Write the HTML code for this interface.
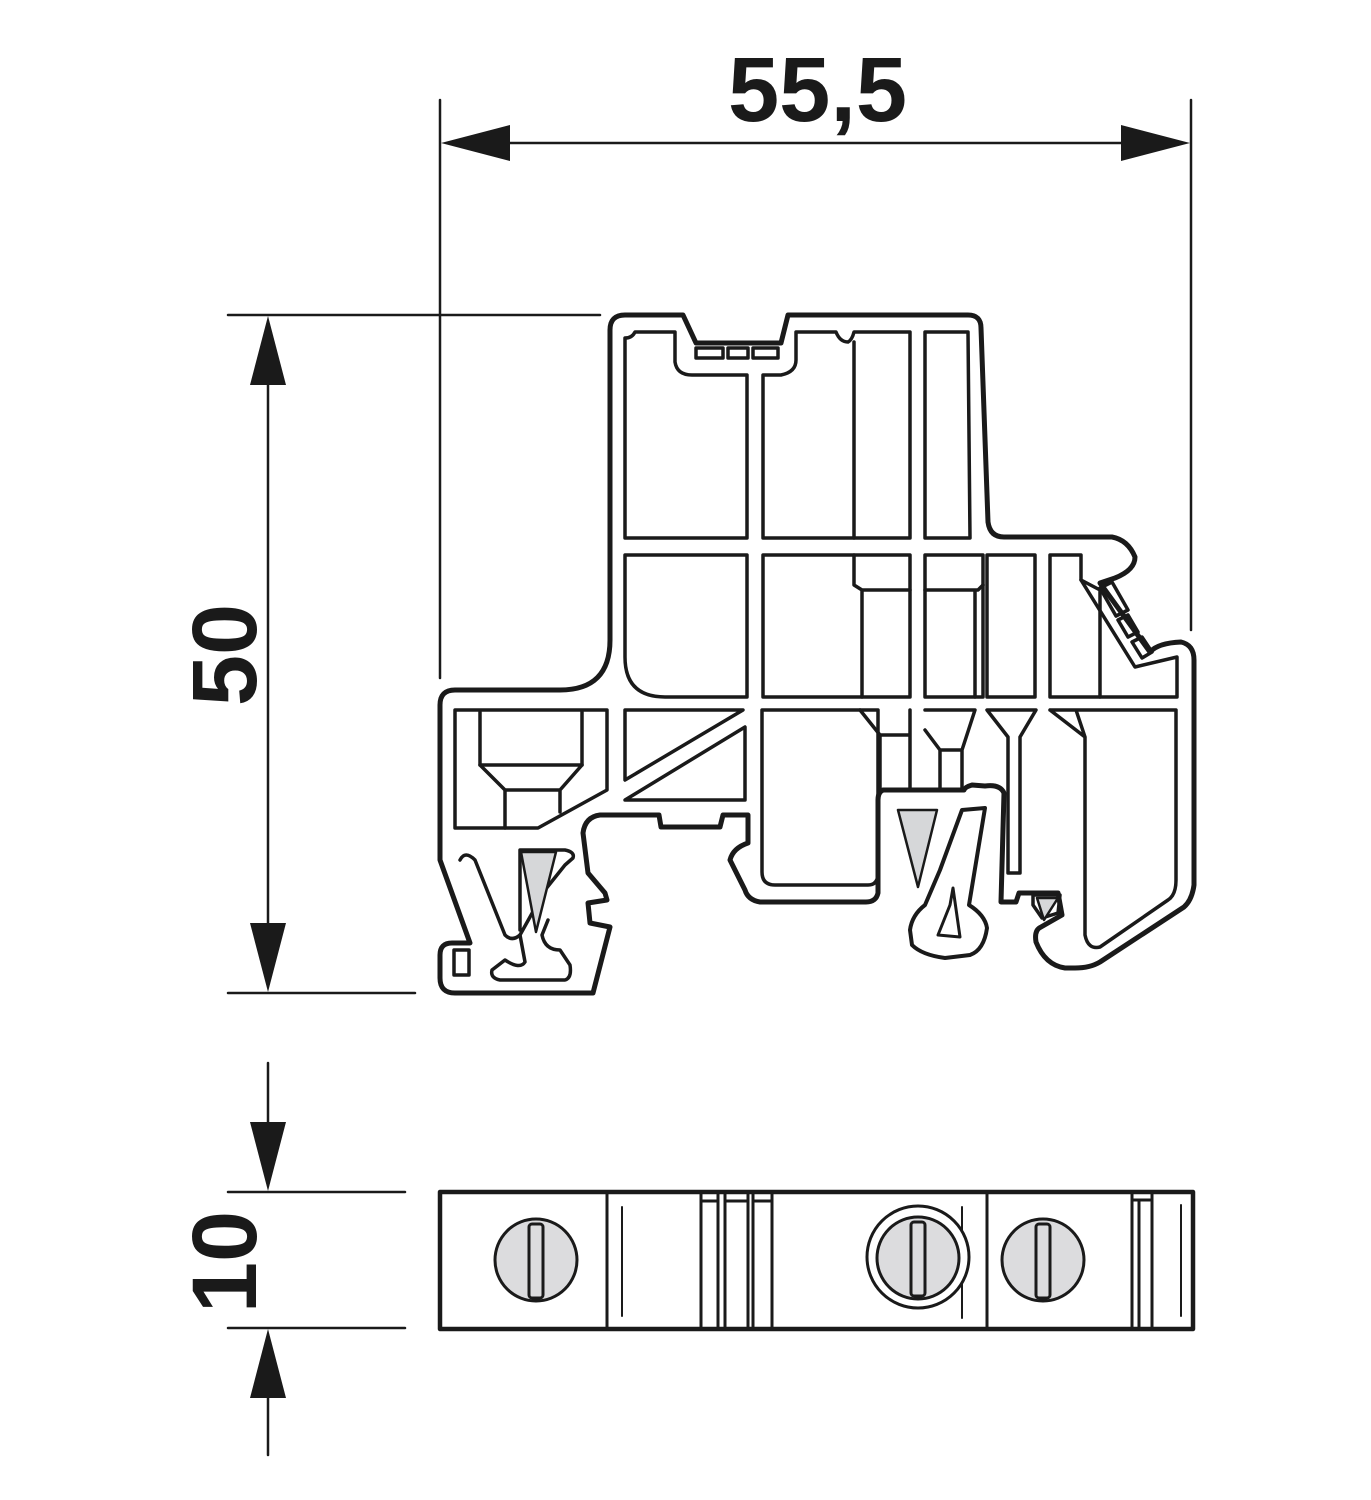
<!DOCTYPE html>
<html><head><meta charset="utf-8"><style>html,body{margin:0;padding:0;background:#fff}svg{display:block}</style></head>
<body>
<svg width="1371" height="1500" viewBox="0 0 1371 1500" xmlns="http://www.w3.org/2000/svg">
<g stroke="#1a1a1a" fill="none" stroke-linejoin="round" stroke-linecap="round">
<g stroke-width="2.5">
<line x1="440" y1="100" x2="440" y2="678"/>
<line x1="1191" y1="100" x2="1191" y2="630"/>
<line x1="505" y1="143" x2="1126" y2="143"/>
<line x1="228" y1="315" x2="600" y2="315"/>
<line x1="228" y1="993" x2="415" y2="993"/>
<line x1="268" y1="380" x2="268" y2="930"/>
<line x1="228" y1="1192" x2="405" y2="1192"/>
<line x1="228" y1="1328" x2="405" y2="1328"/>
<line x1="268" y1="1063" x2="268" y2="1130"/>
<line x1="268" y1="1390" x2="268" y2="1455"/>
</g>
<g fill="#1a1a1a" stroke="none">
<polygon points="441,143 510,125 510,161"/>
<polygon points="1190,143 1121,125 1121,161"/>
<polygon points="268,316 250,385 286,385"/>
<polygon points="268,992 250,923 286,923"/>
<polygon points="268,1191 250,1122 286,1122"/>
<polygon points="268,1329 250,1398 286,1398"/>
</g>

<g stroke-width="5">
<path d="M625,315 H683 L696,343 H781 L788,315 H968 Q981,315 981,328 L988,522 Q990,537 1004,537 H1112 Q1128,540 1135,557 Q1135,570 1115,578 L1100,583 L1150,652 Q1158,643 1181,642 Q1194,645 1194,660 V885 Q1192,900 1184,907 L1100,962 Q1090,968 1075,968 H1065 Q1045,965 1036,942 Q1034,930 1041,927 L1062,915 L1058,893 H1019 L1016,902 H1001 L1004,793 Q1000,784 985,786 L972,785 Q965,787 964,790 H883 Q878,792 878,800 V893 Q876,902 866,902 H760 Q748,900 745,890 L730,860 Q733,848 748,843 V815 H723 L720,827 H661 L659,815 H600 Q585,817 583,833 L588,873 L605,893 L607,900 L588,903 L590,923 L610,927 L593,993 H455 Q440,993 440,978 V955 Q440,943 452,943 H470 L440,860 V705 Q440,690 455,690 H560 Q610,690 610,640 V330 Q610,315 625,315 Z"/>
<path d="M910,930 Q912,915 925,905 L940,870 L962,810 L985,808 L969,905 Q985,915 987,928 Q984,950 970,955 L945,958 Q922,955 912,945 Z" stroke-width="4"/>
<path d="M938,935 L950,905 L953,888 L960,937 Z" stroke-width="3"/>
</g>

<g stroke-width="3.5">
<rect x="696" y="348" width="27" height="10"/>
<rect x="728" y="348" width="20" height="10"/>
<rect x="753" y="348" width="25" height="10"/>
<path d="M625,338 Q632,338 635,332 H675 V362 Q677,375 692,375 H747 V538 H625 Z"/>
<path d="M763,375 H781 Q796,372 796,360 V332 H836 Q840,342 848,342 Q852,340 854,332 H910 V538 H763 Z"/>
<line x1="854" y1="342" x2="854" y2="538"/>
<path d="M925,332 H968 L970,538 H925 Z"/>
<path d="M625,555 H747 V697 H665 Q625,697 625,657 Z"/>
<path d="M763,555 H910 V697 H763 Z"/>
<path d="M854,555 V585 L862,590 H910 M862,590 V697"/>
<path d="M925,555 H983 V697 H925 Z"/>
<path d="M925,590 H978 L983,585 M975,590 V697"/>
<path d="M987,555 H1035 V697 H987 Z"/>
<path d="M1050,555 H1081 V580 L1100,590 V697 H1050 Z"/>
<path d="M1081,580 L1135,667 L1177,657 V697 H1100"/>
<path d="M1100,588 L1112,582 L1128,610 L1116,616 Z"/>
<path d="M1118,620 L1128,615 L1138,632 L1128,637 Z"/>
<path d="M1132,642 L1142,637 L1152,652 L1142,658 Z"/>
<path d="M455,710 H607 V790 L538,828 H455 Z"/>
<path d="M480,712 V765 H582 V712"/>
<path d="M480,765 L505,790 H560 L582,765 M505,790 V828 M560,790 V812"/>
<path d="M625,710 H743 L625,780 Z"/>
<path d="M745,727 V800 H625 Z"/>
<path d="M762,710 H878 V873 Q878,885 868,885 H775 Q762,885 762,872 Z"/>
<path d="M860,710 L880,735 H910 M880,735 V788 M910,710 V788"/>
<path d="M925,710 H975 L962,750 H940 L925,730 M940,750 V788 M962,750 V788"/>
<path d="M987,710 H1036 L1020,737 V873 H1008 V737 Z"/>
<path d="M1050,710 H1176 V880 Q1176,895 1168,900 L1100,947 Q1088,950 1085,935 V737 L1050,710 M1085,737 L1076,710"/>
<path d="M460,860 Q465,850 475,860 L505,935 Q512,942 520,935 L545,890 L565,865 L573,858 Q575,852 565,850 H520 V930"/>
<path d="M520,935 L525,962 Q520,970 505,960 L492,970 Q490,978 500,980 H565 Q572,978 570,965 L560,950 Q545,950 542,935 L548,920"/>
<rect x="454" y="950" width="15" height="25"/>
<path d="M1033,895 H1060 L1058,913 L1042,918 L1033,905 Z"/>
</g>
<g fill="#d6d7d9" stroke-width="2.5">
<polygon points="521,852 556,852 536,932"/>
<polygon points="898,810 937,810 918,887"/>
<polygon points="1037,898 1058,898 1044,920"/>
</g>

<rect x="440" y="1192" width="753" height="137" stroke-width="4.5"/>
<g stroke-width="3">
<line x1="607" y1="1192" x2="607" y2="1329"/>
<line x1="701" y1="1192" x2="701" y2="1329"/>
<line x1="718" y1="1192" x2="718" y2="1329"/>
<line x1="725" y1="1192" x2="725" y2="1329"/>
<line x1="748" y1="1192" x2="748" y2="1329"/>
<line x1="753" y1="1192" x2="753" y2="1329"/>
<line x1="772" y1="1192" x2="772" y2="1329"/>
<line x1="987" y1="1192" x2="987" y2="1329"/>
<line x1="1132" y1="1192" x2="1132" y2="1329"/>
<line x1="1139" y1="1200" x2="1139" y2="1329"/>
<line x1="1152" y1="1192" x2="1152" y2="1329"/>
<line x1="701" y1="1201" x2="718" y2="1201"/>
<line x1="725" y1="1201" x2="748" y2="1201"/>
<line x1="753" y1="1201" x2="772" y2="1201"/>
<line x1="1132" y1="1200" x2="1150" y2="1200"/>
</g>
<g stroke-width="2">
<line x1="622" y1="1207" x2="622" y2="1316"/>
<line x1="962" y1="1207" x2="962" y2="1318"/>
<line x1="1181" y1="1205" x2="1181" y2="1316"/>
</g>
<g stroke-width="3">
<ellipse cx="536" cy="1260" rx="41" ry="41" fill="#dcdcde"/>
<ellipse cx="918" cy="1257" rx="51" ry="51" fill="#fff"/>
<ellipse cx="918" cy="1258" rx="41" ry="41" fill="#dcdcde"/>
<ellipse cx="1043" cy="1260" rx="41" ry="41" fill="#dcdcde"/>
<rect x="529" y="1224" width="14" height="74" rx="3" fill="#dcdcde"/>
<rect x="911" y="1222" width="14" height="74" rx="3" fill="#dcdcde"/>
<rect x="1036" y="1224" width="14" height="74" rx="3" fill="#dcdcde"/>
</g>
</g>

<g fill="#1a1a1a" font-family="'Liberation Sans', sans-serif" font-weight="bold" font-size="92">
<text x="728" y="121">55,5</text>
<text transform="translate(256,655) rotate(-90)" text-anchor="middle">50</text>
<text transform="translate(256,1262) rotate(-90)" text-anchor="middle">10</text>
</g>
</svg>
</body></html>
